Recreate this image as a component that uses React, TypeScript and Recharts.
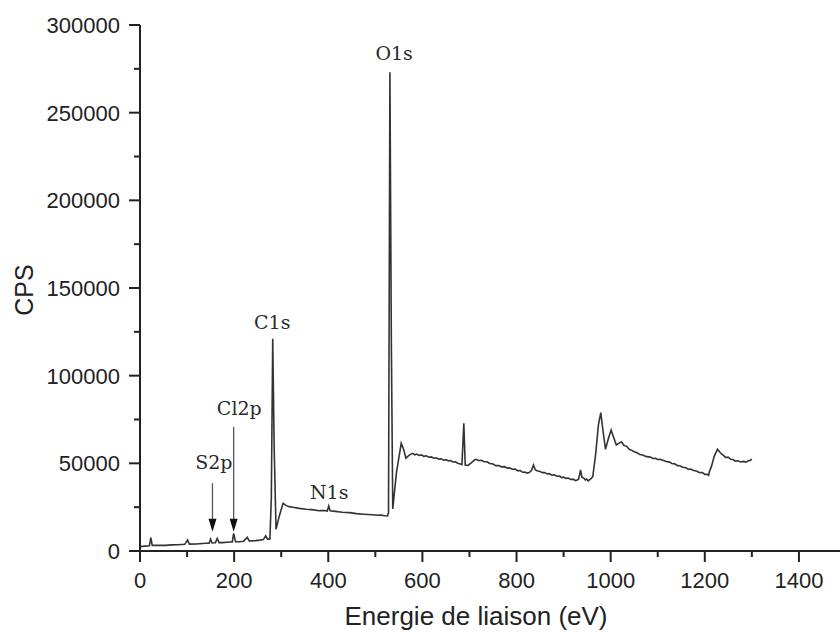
import { LineChart, Line, XAxis, YAxis, ReferenceLine, ReferenceDot, Label } from 'recharts'

// binding energy (eV) and counts per second
const energy = [
  0, 10, 20, 23, 26, 40, 55, 68, 80, 95,
  101, 105, 120, 140, 147, 150, 153, 160, 164, 168,
  175, 190, 196, 199, 203, 211, 220, 228, 232, 246,
  255, 262, 267, 271, 276, 279, 282, 285, 289, 296,
  304, 310, 317, 325, 338, 353, 365, 381, 395, 398,
  401, 404, 415, 430, 445, 460, 475, 494, 505, 512,
  520, 526, 528, 531, 534, 537, 545,
  555, 560, 565, 569, 573, 579, 584, 588, 593, 598,
  603, 608, 614, 619, 624, 629, 635, 640, 645, 650,
  655, 660, 665, 670, 675, 679, 684, 688, 691, 697,
  705, 710, 714, 719, 725, 731, 737, 743, 750, 756,
  762, 768, 775, 780, 785, 791, 797, 802, 808, 813,
  818, 822, 827, 832, 836, 840, 845, 849, 855, 860,
  865, 870, 875, 880, 886, 891, 896, 900, 905, 910,
  915, 920, 925, 929, 932, 936, 939, 943, 946, 949,
  952, 955, 958, 962, 968, 974, 979, 983, 989, 995,
  1001, 1006, 1012, 1018, 1023, 1028, 1034, 1040, 1045, 1050,
  1056, 1062, 1068, 1076, 1083, 1090, 1095, 1100, 1105, 1111,
  1118, 1125, 1130, 1136, 1142, 1147, 1153, 1160, 1165, 1170,
  1176, 1182, 1188, 1195, 1200, 1205, 1208, 1210, 1214, 1220,
  1227, 1233, 1236, 1239, 1244, 1250, 1255, 1260, 1265, 1270,
  1276, 1282, 1287, 1293, 1297, 1300,
]

const counts = [
  2500, 2800, 3000, 7600, 3200, 3300, 3200, 3500, 3600, 3800,
  6300, 3900, 4000, 4400, 4500, 6800, 4600, 4700, 7200, 4800,
  4800, 5100, 5200, 10000, 5300, 5300, 5600, 7800, 5800, 5900,
  6200, 6500, 8700, 6800, 6900, 30000, 121000, 60000, 12400, 20000,
  27200, 26000, 25300, 25000, 24300, 23800, 23600, 23000, 23000, 22800,
  25700, 22900, 22600, 22100, 21900, 21300, 21000, 20700, 20400, 20500,
  20100, 20000, 22000, 273000, 120000, 24000, 45000,
  61400, 58000, 52900, 54000, 54800, 55700, 54900, 55300, 54500, 54800,
  54000, 54300, 53500, 53700, 52900, 53200, 52400, 52600, 51800, 52100,
  51400, 51600, 50800, 50900, 50100, 49800, 49300, 72800, 49000, 48800,
  50500, 51800, 52300, 51600, 51700, 50900, 50900, 49900, 49600, 48700,
  48800, 48000, 48100, 47300, 47400, 46600, 46700, 45800, 45900, 44900,
  45000, 44400, 44700, 46000, 49000, 46200, 45600, 45500, 44700, 44800,
  43900, 44100, 43300, 43500, 42600, 42700, 41900, 42100, 41400, 41600,
  40800, 41000, 40200, 40500, 41000, 46200, 42000, 41600, 40500, 41000,
  40000, 40600, 41200, 42400, 55000, 72000, 78900, 70000, 58000, 64000,
  69000, 65000, 60500, 61500, 62300, 60300, 59700, 57900, 57400, 56600,
  56000, 55000, 54800, 53800, 53700, 52800, 52900, 52200, 52300, 51700,
  51000, 50700, 49900, 49700, 48700, 48600, 47800, 47500, 46600, 46700,
  45900, 45600, 44800, 44700, 43700, 43800, 43200, 45500, 48100, 54000,
  58000, 56000, 55300, 54700, 53400, 53500, 52300, 52200, 51300, 51500,
  50800, 51100, 50700, 51500, 51800, 52400,
]

const xMajorTicks = [0, 200, 400, 600, 800, 1000, 1200, 1400]
const xMinorTicks = [100, 300, 500, 700, 900, 1100, 1300]
const yMajorTicks = [0, 50000, 100000, 150000, 200000, 250000, 300000]
const yMinorTicks = [25000, 75000, 125000, 175000, 225000, 275000]

// peak names and the point (eV, CPS) where each name sits
const peakNames = ['O1s', 'C1s', 'Cl2p', 'S2p', 'N1s']
const peakNameEv = [540, 281, 211, 157, 402]
const peakNameCps = [280000, 126500, 77500, 46500, 29500]

// arrows pointing at the small S2p and Cl2p peaks
const arrowEv = [154, 199]
const arrowFrom = [38600, 70900]
const arrowTo = [11000, 11000]

const data = energy.map((ev, i) => ({ ev, cps: counts[i] }))

const TICK = 11
const MINOR = 6
const GAP = 9
const INK = '#222'
const SANS = '"Liberation Sans", Arial, sans-serif'
const SERIF = '"DejaVu Serif", serif'

const XTick = (props: any) => {
  const { x, y, payload } = props
  const axisY = y - TICK - GAP
  const major = xMajorTicks.includes(payload.value)
  return (
    <g>
      <line x1={x} x2={x} y1={axisY} y2={axisY + (major ? TICK : MINOR)} stroke={INK} strokeWidth={2} />
      {major && (
        <text x={x} y={axisY + 37} textAnchor="middle" fontSize={22} fontFamily={SANS} fill={INK}>
          {payload.value}
        </text>
      )}
    </g>
  )
}

const YTick = (props: any) => {
  const { x, y, payload } = props
  const axisX = x + TICK + GAP
  const major = yMajorTicks.includes(payload.value)
  return (
    <g>
      <line x1={axisX} x2={axisX - (major ? TICK : MINOR)} y1={y} y2={y} stroke={INK} strokeWidth={2} />
      {major && (
        <text x={axisX - 20} y={y + 8} textAnchor="end" fontSize={22} fontFamily={SANS} fill={INK}>
          {payload.value}
        </text>
      )}
    </g>
  )
}

const XTitle = (props: any) => {
  const vb = props.viewBox
  return (
    <text x={vb.x + 336} y={625} textAnchor="middle" fontSize={26} fontFamily={SANS} fill={INK}>
      Energie de liaison (eV)
    </text>
  )
}

const YTitle = (props: any) => {
  const vb = props.viewBox
  const cx = 24
  const cy = vb.y + vb.height / 2 + 2
  return (
    <text
      x={cx}
      y={cy}
      transform={`rotate(-90 ${cx} ${cy})`}
      textAnchor="middle"
      dominantBaseline="central"
      fontSize={25}
      fontFamily={SANS}
      fill={INK}
    >
      CPS
    </text>
  )
}

const Arrow = (props: any) => {
  const { x1, y1, x2, y2 } = props
  return (
    <g>
      <line x1={x1} y1={y1} x2={x2} y2={y2 - 11} stroke="#555" strokeWidth={1.3} />
      <polygon points={`${x2 - 4},${y2 - 13} ${x2 + 4},${y2 - 13} ${x2},${y2}`} fill="#111" />
    </g>
  )
}

export default function App() {
  const allX = [...xMajorTicks, ...xMinorTicks].sort((a, b) => a - b)
  const allY = [...yMajorTicks, ...yMinorTicks].sort((a, b) => a - b)
  return (
    <div style={{ width: 840, height: 634, overflow: 'hidden', background: '#fff' }}>
      <style>{`body{margin:0}`}</style>
      <LineChart width={846} height={634} data={data} margin={{ top: 25, right: 0, bottom: 0, left: 0 }}>
        <XAxis
          type="number"
          dataKey="ev"
          domain={[0, 1500]}
          ticks={allX}
          interval={0}
          height={83}
          tickSize={TICK}
          tickMargin={GAP}
          tickLine={false}
          tick={<XTick />}
          axisLine={{ stroke: INK, strokeWidth: 2 }}
        >
          <Label content={<XTitle />} />
        </XAxis>
        <YAxis
          type="number"
          domain={[0, 300000]}
          ticks={allY}
          interval={0}
          width={140}
          tickSize={TICK}
          tickMargin={GAP}
          tickLine={false}
          tick={<YTick />}
          axisLine={{ stroke: INK, strokeWidth: 2 }}
        >
          <Label content={<YTitle />} />
        </YAxis>
        <Line
          type="linear"
          dataKey="cps"
          stroke="#333"
          strokeWidth={1.6}
          dot={false}
          isAnimationActive={false}
        />
        {arrowEv.map((ev, i) => (
          <ReferenceLine
            key={`arrow-${i}`}
            segment={[{ x: ev, y: arrowFrom[i] }, { x: ev, y: arrowTo[i] }]}
            ifOverflow="visible"
            shape={(p: any) => <Arrow {...p} />}
          />
        ))}
        {peakNames.map((name, i) => (
          <ReferenceDot
            key={name}
            x={peakNameEv[i]}
            y={peakNameCps[i]}
            r={1}
            ifOverflow="visible"
            shape={(p: any) => (
              <text x={p.cx} y={p.cy} textAnchor="middle" fontSize={19} fontFamily={SERIF} fill="#2a2a2a">
                {name}
              </text>
            )}
          />
        ))}
      </LineChart>
    </div>
  )
}
